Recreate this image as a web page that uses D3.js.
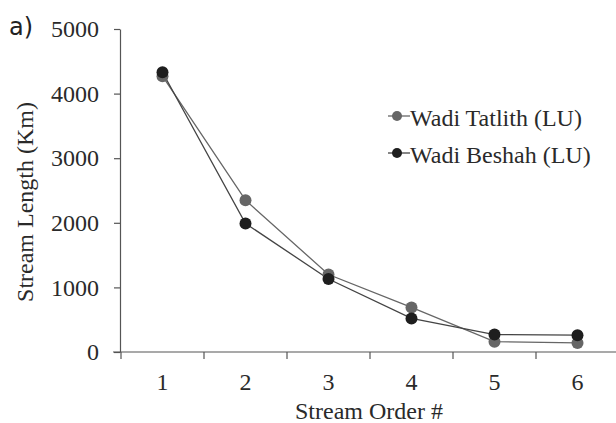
<!DOCTYPE html>
<html>
<head>
<meta charset="utf-8">
<script src="https://cdn.jsdelivr.net/npm/d3@7"></script>
<style>
body { margin: 0; background: #fff; }
</style>
</head>
<body>
<div id="chart"></div>
<script>
var orders = [1, 2, 3, 4, 5, 6]
var tatlith = [4270, 2350, 1200, 690, 160, 140]
var beshah = [4330, 1990, 1130, 520, 270, 260]
var yTicks = [0, 1000, 2000, 3000, 4000, 5000]

var svgWidth = 616
var svgHeight = 423
var margin = { top: 29, right: 0, bottom: 71, left: 121 }
var chartWidth = svgWidth - margin.left - margin.right
var chartHeight = svgHeight - margin.top - margin.bottom

var serifStyle = "font-family: 'Liberation Serif', 'DejaVu Serif', serif; font-size: 24px"

var svg = d3.select("#chart")
    .append("svg")
    .attr("width", svgWidth)
    .attr("height", svgHeight)

var chartGroup = svg.append("g")
    .attr("transform", `translate(${margin.left},${margin.top})`)

var xScale = d3.scaleBand()
    .domain(orders)
    .range([0, 498])
var yScale = d3.scaleLinear()
    .domain([0, 5000])
    .range([chartHeight, 0])

var axisColor = "#555"

// y axis
var yAxis = chartGroup.append("g")
    .attr("transform", "translate(-1,0)")
    .call(d3.axisLeft(yScale).tickValues(yTicks).tickFormat(d3.format("d"))
        .tickSize(6).tickSizeOuter(0).tickPadding(15))
yAxis.select(".domain").attr("stroke", axisColor).attr("stroke-width", 1.2)
yAxis.selectAll("line").attr("stroke", axisColor).attr("stroke-width", 1.2)
yAxis.selectAll("text")
    .attr("style", serifStyle)
    .attr("fill", "#2a2a2a")

// x axis: band boundaries as ticks
var xAxis = chartGroup.append("g")
    .attr("transform", `translate(0,${chartHeight})`)
xAxis.append("line")
    .attr("x1", -8)
    .attr("x2", chartWidth)
    .attr("stroke", axisColor)
    .attr("stroke-width", 1.2)
xAxis.selectAll(".xtick")
    .data(orders)
    .enter()
    .append("line")
    .attr("x1", d => xScale(d))
    .attr("x2", d => xScale(d))
    .attr("y1", 0)
    .attr("y2", 7)
    .attr("stroke", axisColor)
    .attr("stroke-width", 1.2)
xAxis.selectAll(".xlabel")
    .data(orders)
    .enter()
    .append("text")
    .attr("style", serifStyle)
    .attr("x", d => xScale(d) + xScale.bandwidth() / 2)
    .attr("y", 38)
    .attr("text-anchor", "middle")
    .attr("fill", "#2a2a2a")
    .text(d => d)

// lines and markers
var line = d3.line()
    .x((d, i) => xScale(orders[i]) + xScale.bandwidth() / 2)
    .y(d => yScale(d))

var series = [
    { name: "Wadi Tatlith (LU)", values: tatlith, color: "#666", lineColor: "#666" },
    { name: "Wadi Beshah (LU)", values: beshah, color: "#1e1e1e", lineColor: "#444" }
]

series.forEach(s => {
    chartGroup.append("path")
        .datum(s.values)
        .attr("d", line)
        .attr("fill", "none")
        .attr("stroke", s.lineColor)
        .attr("stroke-width", 1.3)
})
series.forEach(s => {
    chartGroup.selectAll(null)
        .data(s.values)
        .enter()
        .append("circle")
        .attr("cx", (d, i) => xScale(orders[i]) + xScale.bandwidth() / 2)
        .attr("cy", d => yScale(d))
        .attr("r", 6)
        .attr("fill", s.color)
})

// legend
var legend = svg.append("g")
series.forEach((s, i) => {
    var ly = 116 + i * 37
    legend.append("line")
        .attr("x1", 388).attr("x2", 410)
        .attr("y1", ly).attr("y2", ly)
        .attr("stroke", s.lineColor)
        .attr("stroke-width", 1.3)
    legend.append("circle")
        .attr("cx", 397).attr("cy", ly)
        .attr("r", 5)
        .attr("fill", s.color)
    legend.append("text")
        .attr("style", serifStyle)
        .attr("x", 410)
        .attr("y", ly + 10)
        .attr("fill", "#2a2a2a")
        .text(s.name)
})

// axis titles
svg.append("text")
    .attr("style", serifStyle)
    .attr("transform", "rotate(-90)")
    .attr("x", -202)
    .attr("y", 33)
    .attr("text-anchor", "middle")
    .attr("fill", "#2a2a2a")
    .text("Stream Length (Km)")

svg.append("text")
    .attr("style", serifStyle)
    .attr("x", 369)
    .attr("y", 419)
    .attr("text-anchor", "middle")
    .attr("fill", "#2a2a2a")
    .text("Stream Order #")

svg.append("text")
    .attr("x", 9)
    .attr("y", 35)
    .attr("style", "font-family: 'DejaVu Sans', sans-serif; font-size: 24px")
    .attr("fill", "#222")
    .text("a)")
</script>
</body>
</html>
